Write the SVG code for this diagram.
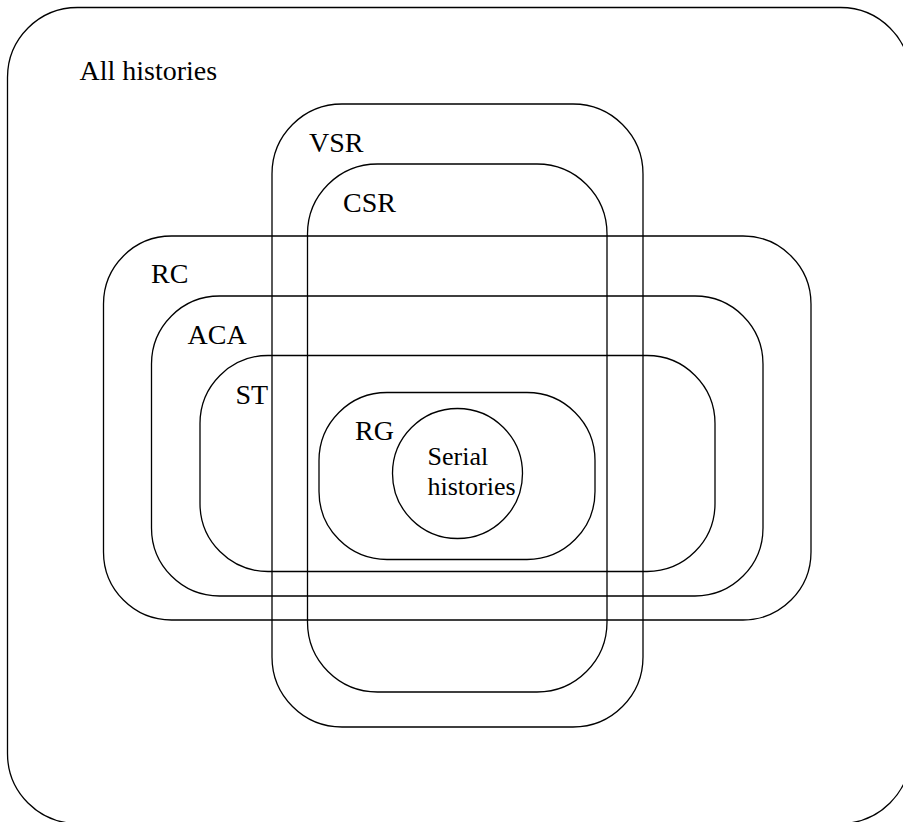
<svg xmlns="http://www.w3.org/2000/svg" width="903" height="822" viewBox="0 0 903 822">
  <style>
    .set { fill: none; stroke: #000; stroke-width: 1.3; }
    .lbl { font-family: "Liberation Serif", "Times New Roman", serif; font-size: 28px; fill: #000; }
    .lbl-sm { font-family: "Liberation Serif", "Times New Roman", serif; font-size: 26px; fill: #000; }
  </style>
  <rect x="0" y="0" width="903" height="822" fill="#fff"/>

  <!-- Universe of all histories -->
  <g id="all-histories">
    <rect class="set" x="7.5" y="7.5" width="903" height="816" rx="70" ry="70"/>
    <text class="lbl" x="79.5" y="80">All histories</text>
  </g>

  <!-- View serializable -->
  <g id="vsr">
    <rect class="set" x="272" y="104" width="371" height="623" rx="70" ry="70"/>
    <text class="lbl" x="309" y="151.5">VSR</text>
  </g>

  <!-- Conflict serializable -->
  <g id="csr">
    <rect class="set" x="307.5" y="164" width="299.5" height="528" rx="70" ry="70"/>
    <text class="lbl" x="343" y="211.5">CSR</text>
  </g>

  <!-- Recoverable -->
  <g id="rc">
    <rect class="set" x="103.5" y="236" width="707.5" height="384" rx="68" ry="68"/>
    <text class="lbl" x="151" y="283">RC</text>
  </g>

  <!-- Avoids cascading aborts -->
  <g id="aca">
    <rect class="set" x="151.5" y="296" width="611.5" height="300" rx="68" ry="68"/>
    <text class="lbl" x="187.5" y="344">ACA</text>
  </g>

  <!-- Strict -->
  <g id="st">
    <rect class="set" x="200" y="355.5" width="515" height="216" rx="68" ry="68"/>
    <text class="lbl" x="235.5" y="404">ST</text>
  </g>

  <!-- Rigorous -->
  <g id="rg">
    <rect class="set" x="319" y="392.5" width="276" height="167" rx="68" ry="68"/>
    <text class="lbl" x="355" y="440">RG</text>
  </g>

  <!-- Serial histories -->
  <g id="serial">
    <circle class="set" cx="457.5" cy="473.5" r="65"/>
    <text class="lbl-sm" x="427.5" y="465">Serial</text>
    <text class="lbl-sm" x="427.5" y="495">histories</text>
  </g>
</svg>
